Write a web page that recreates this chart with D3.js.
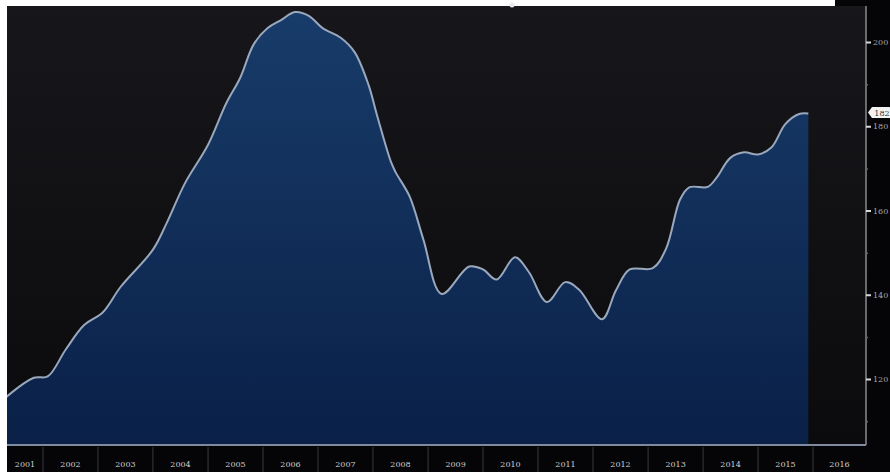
<!DOCTYPE html>
<html>
<head>
<meta charset="utf-8">
<script src="https://cdn.jsdelivr.net/npm/d3@7"></script>
<style>
html,body{margin:0;padding:0;background:#ffffff;}
svg{display:block;}
</style>
</head>
<body>
<svg id="chart" width="890" height="472"></svg>
<script>
// ---- data ----
const dates = ["2001-05","2001-11","2002-02","2002-06","2002-10","2003-02","2003-06","2004-01","2004-04","2004-08","2005-01","2005-05","2005-08","2005-11","2006-02","2006-05","2006-08","2006-11","2007-02","2007-06","2007-09","2007-12","2008-02","2008-05","2008-06","2008-09","2008-12","2009-04","2009-10","2010-01","2010-04","2010-08","2010-11","2011-03","2011-07","2011-10","2012-03","2012-06","2012-09","2013-02","2013-05","2013-08","2013-10","2014-02","2014-04","2014-07","2014-10","2015-01","2015-04","2015-07","2015-10","2015-12"];
const values = [115.7,120.3,120.6,127.0,132.8,135.8,141.9,150.7,157.0,166.5,175.6,185.4,191.4,199.5,203.3,205.2,207.1,206.2,203.3,201.0,197.6,190.0,182.1,171.4,169.0,163.3,153.1,140.2,146.7,146.0,143.6,148.9,145.4,138.3,143.0,141.2,134.2,141.0,146.0,146.3,151.0,162.6,165.5,165.6,167.8,172.5,173.8,173.3,175.0,180.5,182.9,183.0];
const yearLabels = ["2001","2002","2003","2004","2005","2006","2007","2008","2009","2010","2011","2012","2013","2014","2015","2016"];
const yTicks = [120,140,160,180,200];
const yMinorTicks = [110,130,150,170,190];
const lastLabel = "182";

// ---- layout ----
const W = 890, H = 472;
const plot = {left: 7, right: 866, top: 6, bottom: 445};

const parse = d3.timeParse("%Y-%m");
const data = dates.map((d,i)=>({date: parse(d), value: values[i]}));

const x = d3.scaleTime()
  .domain([new Date(2002,0,1), new Date(2016,0,1)])
  .range([43, 813]);
const y = d3.scaleLinear().domain([120,200]).range([379,42]);

const svg = d3.select("#chart");
const defs = svg.append("defs");

const bg = defs.append("linearGradient").attr("id","bg").attr("x1",0).attr("y1",0).attr("x2",0).attr("y2",1);
bg.append("stop").attr("offset","0%").attr("stop-color","#17171b");
bg.append("stop").attr("offset","100%").attr("stop-color","#0b0b0d");

const ag = defs.append("linearGradient").attr("id","areaGrad")
  .attr("gradientUnits","userSpaceOnUse").attr("x1",0).attr("y1",plot.top).attr("x2",0).attr("y2",plot.bottom);
ag.append("stop").attr("offset","0%").attr("stop-color","#183c6a");
ag.append("stop").attr("offset","100%").attr("stop-color","#0a2047");

defs.append("clipPath").attr("id","clip").append("rect")
  .attr("x",plot.left).attr("y",plot.top)
  .attr("width",plot.right-plot.left).attr("height",plot.bottom-plot.top);

// white page background
svg.append("rect").attr("width",W).attr("height",H).attr("fill","#ffffff");
// dark right strip and bottom strip
svg.append("rect").attr("x",plot.left).attr("y",plot.top).attr("width",W-plot.left).attr("height",H-plot.top).attr("fill","#050507");
svg.append("rect").attr("x",835).attr("y",0).attr("width",W-835).attr("height",plot.top).attr("fill","#050507");
// plot background
svg.append("rect").attr("x",plot.left).attr("y",plot.top)
  .attr("width",plot.right-plot.left).attr("height",plot.bottom-plot.top)
  .attr("fill","url(#bg)");

const g = svg.append("g").attr("clip-path","url(#clip)");

const area = d3.area()
  .x(d=>x(d.date)).y0(plot.bottom).y1(d=>y(d.value))
  .curve(d3.curveCatmullRom.alpha(0.5));
const line = d3.line()
  .x(d=>x(d.date)).y(d=>y(d.value))
  .curve(d3.curveCatmullRom.alpha(0.5));

g.append("path").datum(data).attr("d",area).attr("fill","url(#areaGrad)");
g.append("path").datum(data).attr("d",line)
  .attr("fill","none").attr("stroke","#9aa8bd").attr("stroke-width",2);

// frame: right axis line + bottom line
svg.append("line").attr("x1",plot.right).attr("x2",plot.right).attr("y1",plot.top).attr("y2",plot.bottom)
  .attr("stroke","#8a8a90").attr("stroke-width",1.5);
svg.append("line").attr("x1",plot.left).attr("x2",plot.right).attr("y1",plot.bottom).attr("y2",plot.bottom)
  .attr("stroke","#7d8aa0").attr("stroke-width",2);

// right axis
const yAxis = d3.axisRight(y).tickValues(yTicks).tickSize(5).tickPadding(2).tickFormat(d3.format("d"));
const ya = svg.append("g").attr("transform",`translate(${plot.right},0)`).call(yAxis);
ya.select(".domain").remove();
ya.selectAll(".tick line").attr("stroke","#d8d8d8").attr("stroke-width",2);
ya.selectAll(".tick text").attr("fill","#a8a8a8").attr("font-family","DejaVu Serif, serif").attr("font-size",8);

const yMinor = d3.axisRight(y).tickValues(yMinorTicks).tickSize(2).tickFormat("");
const ym = svg.append("g").attr("transform",`translate(${plot.right},0)`).call(yMinor);
ym.select(".domain").remove();
ym.selectAll(".tick line").attr("stroke","#666").attr("stroke-width",1.5);

// last value tag
const lastY = y(data[data.length-1].value) - 1;
const tag = svg.append("g").attr("transform",`translate(${plot.right+2},${lastY})`);
tag.append("path").attr("d","M0,0 L4,-5.5 L21,-5.5 Q23,-5.5 23,-3.5 L23,3.5 Q23,5.5 21,5.5 L4,5.5 Z").attr("fill","#f2f2f2");
tag.append("text").attr("x",14).attr("y",3).attr("text-anchor","middle")
  .attr("font-family","DejaVu Serif, serif").attr("font-size",8).attr("fill","#333").text(lastLabel);

// bottom year axis
const yearStart = yearLabels.map(s=>new Date(+s,0,1));
const xa = svg.append("g");
yearStart.slice(1).forEach(d=>{
  xa.append("line").attr("x1",x(d)).attr("x2",x(d)).attr("y1",plot.bottom+2).attr("y2",H)
    .attr("stroke","#3a3a3e").attr("stroke-width",1);
});
yearLabels.forEach((s,i)=>{
  const a = Math.max(x(new Date(+s,0,1)), plot.left);
  const b = Math.min(x(new Date(+s+1,0,1)), plot.right);
  xa.append("text").attr("x",(a+b)/2).attr("y",467).attr("text-anchor","middle")
    .attr("font-family","DejaVu Serif, serif").attr("font-size",8).attr("fill","#cfcfcf").text(s);
});

// faint legend marker at top
svg.append("circle").attr("cx",512).attr("cy",5).attr("r",2.5).attr("fill","#e8e8e8");
</script>
</body>
</html>
